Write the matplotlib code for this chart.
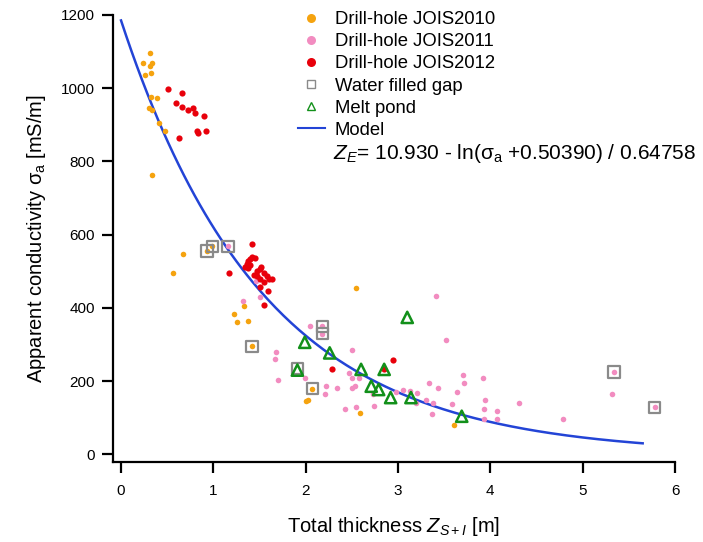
import matplotlib
matplotlib.use('Agg')
import matplotlib.pyplot as plt
import numpy as np
from matplotlib.lines import Line2D

plt.rcParams['font.family'] = ['Liberation Sans', 'DejaVu Sans']
plt.rcParams['mathtext.fontset'] = 'custom'
plt.rcParams['mathtext.rm'] = 'Liberation Sans'
plt.rcParams['mathtext.it'] = 'Liberation Sans:italic'

# Drill-hole JOIS2010 (orange)
x_2010 = [0.31, 0.235, 0.34, 0.31, 0.257, 0.32, 0.32, 0.39, 0.30, 0.33, 0.415, 0.48, 0.336,
          0.67, 0.56, 0.93, 0.99, 1.33, 1.22, 1.26, 1.38, 1.42, 2.07, 2.00, 2.02, 2.55, 2.59, 3.61]
y_2010 = [1095, 1068, 1068, 1062, 1036, 1041, 975, 972, 945, 941, 906, 884, 764,
          546, 495, 555, 568, 405, 384, 361, 365, 295, 179, 145, 148, 453, 112, 80]

# Drill-hole JOIS2011 (pink)
x_2011 = [1.16, 1.46, 1.50, 1.32, 2.05, 1.68, 1.67, 1.70, 1.99, 2.18, 2.18, 3.41, 3.52,
          2.50, 2.47, 2.50, 2.58, 3.70, 3.71, 3.92, 3.34, 3.43, 3.64, 2.22, 2.21, 2.34,
          2.50, 2.53, 2.73, 2.74, 2.55, 2.43, 2.98, 3.05, 3.13, 3.21, 3.20, 3.30, 3.38,
          3.37, 3.58, 3.94, 3.93, 4.07, 4.31, 4.07, 3.93, 4.79, 5.34, 5.32, 5.78]
y_2011 = [568, 474, 430, 418, 350, 279, 261, 202, 208, 350, 330, 432, 313,
          284, 223, 209, 209, 216, 195, 209, 195, 180, 171, 186, 165, 180,
          180, 186, 165, 132, 129, 123, 170, 175, 172, 167, 141, 147, 141,
          111, 138, 147, 125, 118, 140, 97, 97, 97, 225, 164, 128]

# Drill-hole JOIS2012 (red)
x_2012 = [0.51, 0.66, 0.60, 0.66, 0.72, 0.78, 0.80, 0.90, 0.82, 0.83, 0.92, 0.63,
          1.42, 1.17, 1.34, 1.36, 1.38, 1.40, 1.42, 1.45, 1.40, 1.37,
          1.44, 1.47, 1.50, 1.52, 1.55, 1.58, 1.60, 1.63, 1.55, 1.50, 1.47,
          1.50, 1.59, 1.55, 2.95, 2.29, 2.85]
y_2012 = [997, 986, 959, 948, 940, 945, 932, 925, 882, 877, 883, 863,
          575, 495, 512, 520, 528, 533, 538, 535, 518, 508,
          490, 500, 506, 512, 495, 486, 480, 478, 472, 478, 486,
          456, 447, 409, 257, 232, 232]

# Water filled gap (squares)
x_gap = [0.93, 0.99, 1.16, 1.42, 1.91, 2.07, 2.18, 2.18, 5.34, 5.78]
y_gap = [555, 568, 568, 295, 235, 179, 350, 330, 225, 128]

# Melt pond (triangles)
x_pond = [1.99, 1.91, 2.26, 3.10, 2.60, 2.85, 2.71, 2.79, 2.92, 3.14, 3.69]
y_pond = [306, 230, 277, 374, 232, 232, 186, 177, 155, 155, 104]

# model: Z_E = 10.930 - ln(sigma + 0.50390) / 0.64758
z_model = np.linspace(0, 5.65, 200)
s_model = np.exp((10.930 - z_model) * 0.64758) - 0.50390

c_2010 = '#f5a30f'
c_2011 = '#f28cc0'
c_2012 = '#e8000b'
c_gap = '#8a8a8a'
c_pond = '#12901a'
c_model = '#2344d6'

fig = plt.figure(figsize=(7.03, 5.42), dpi=100)
ax = fig.add_axes([113 / 703, 80 / 542, (675 - 113) / 703, (462 - 15) / 542])

ax.scatter(x_2010, y_2010, s=16, color=c_2010, linewidths=0, zorder=3)
ax.scatter(x_2011, y_2011, s=16, color=c_2011, linewidths=0, zorder=3)
ax.scatter(x_2012, y_2012, s=20, color=c_2012, linewidths=0, zorder=3)
ax.scatter(x_gap, y_gap, s=66, marker='s', facecolors='none', edgecolors=c_gap, linewidths=1.6, zorder=4)
ax.scatter(x_pond, y_pond, s=66, marker='^', facecolors='none', edgecolors=c_pond, linewidths=1.8, zorder=4)
ax.plot(z_model, s_model, color=c_model, lw=1.8, zorder=2)

ax.set_xlim(-0.087, 6)
ax.set_ylim(-21, 1200)
ax.set_xticks(range(0, 7))
ax.set_yticks(range(0, 1201, 200))
ax.spines['top'].set_visible(False)
ax.spines['right'].set_visible(False)
for s in ['left', 'bottom']:
    ax.spines[s].set_linewidth(1.6)
ax.tick_params(direction='out', length=8, width=1.6, labelsize=11)
ax.tick_params(axis='x', pad=8)
ax.tick_params(axis='y', pad=5)

ax.set_xlabel(r'Total thickness $Z_{S+I}$ [m]', fontsize=14.5, labelpad=12)
ax.set_ylabel(r'Apparent conductivity σ$_\mathrm{a}$ [mS/m]', fontsize=14.5, labelpad=9)

handles = [
    Line2D([], [], ls='none', marker='o', ms=6.5, color=c_2010, mec='none'),
    Line2D([], [], ls='none', marker='o', ms=6.5, color=c_2011, mec='none'),
    Line2D([], [], ls='none', marker='o', ms=6.5, color=c_2012, mec='none'),
    Line2D([], [], ls='none', marker='s', ms=6, mfc='none', mec=c_gap, mew=1),
    Line2D([], [], ls='none', marker='^', ms=6, mfc='none', mec=c_pond, mew=1),
    Line2D([], [], color=c_model, lw=1.5),
]
labels = ['Drill-hole JOIS2010', 'Drill-hole JOIS2011', 'Drill-hole JOIS2012',
          'Water filled gap', 'Melt pond', 'Model']
fig.legend(handles, labels, loc='upper left', bbox_to_anchor=(298 / 703, 1 - 11 / 542),
           frameon=False, fontsize=13.3, handlelength=1.45, handletextpad=0.55,
           labelspacing=0.28, borderpad=0, borderaxespad=0)

fig.text(333 / 703, 1 - 159 / 542, r'$Z_E$= 10.930 - ln(σ$_\mathrm{a}$ +0.50390) / 0.64758',
         fontsize=15, ha='left', va='baseline')

fig.savefig('out.png', dpi=100)
